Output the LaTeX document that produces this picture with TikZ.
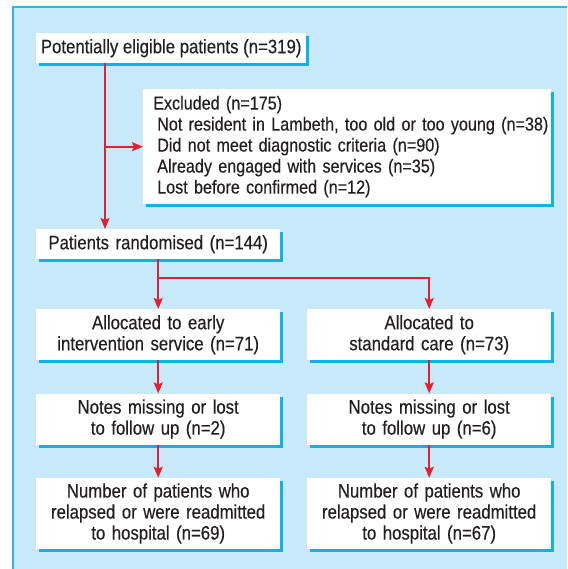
\documentclass[tikz,border=0pt]{standalone}
\usepackage{fontspec}
\setmainfont{Liberation Sans}[FakeStretch=0.86, FakeBold=0.3]
\usepackage{xcolor}
\usetikzlibrary{arrows.meta,positioning,shadows}

\definecolor{panelblue}{HTML}{C7E9F9}
\definecolor{framecyan}{HTML}{2AB8E8}
\definecolor{shadecyan}{HTML}{0DB1EC}
\definecolor{flowred}{HTML}{E5202E}
\definecolor{inkgrey}{HTML}{231F20}

\begin{document}
\begin{tikzpicture}[
    x=1pt, y=1pt,
    font=\fontsize{19.5}{21}\selectfont,
    box/.style={fill=white, text=inkgrey, inner sep=0pt, align=center,
        drop shadow={shadow xshift=3pt, shadow yshift=-3pt, fill=shadecyan, opacity=1}},
    wide/.style={box, minimum width=244pt, text width=236pt},
    excl/.style={box, align=left, text width=406pt, minimum height=115pt, inner xsep=1pt,
        font=\fontsize{18.8}{21}\selectfont},
    arr/.style={color=flowred, line width=1.9pt, -{Stealth[length=11pt, width=9pt, inset=2pt]}}
]

% panel
\useasboundingbox (0,0) rectangle (567,-569);
\fill[panelblue] (13,-7) rectangle (567,-569);
\draw[framecyan, line width=1.5pt] (13,-569) -- (13,-7) -- (567,-7);

% boxes
\node[box, minimum width=270pt, minimum height=30pt, anchor=north west] (elig) at (36,-33)
    {Potentially eligible patients (n=319)};
\node[excl, anchor=north west] (excl) at (143,-89)
    {\hspace*{9pt}Excluded (n=175)\\
     \hspace*{13pt}\mbox{Not resident in Lambeth, too old or too young (n=38)}\\
     \hspace*{13pt}Did not meet diagnostic criteria (n=90)\\
     \hspace*{13pt}Already engaged with services (n=35)\\
     \hspace*{13pt}Lost before confirmed (n=12)};
\node[wide, minimum height=30pt, anchor=north west] (rand) at (36,-229)
    {Patients randomised (n=144)};

\node[wide, minimum height=51pt, anchor=north west] (alloc1) at (36,-309)
    {Allocated to early\\intervention service (n=71)};
\node[wide, minimum height=51pt, anchor=north west] (alloc2) at (307,-309)
    {Allocated to\\standard care (n=73)};
\node[wide, minimum height=51pt, below=33pt of alloc1] (lost1)
    {Notes missing or lost\\to follow up (n=2)};
\node[wide, minimum height=51pt, below=33pt of alloc2] (lost2)
    {Notes missing or lost\\to follow up (n=6)};
\node[wide, minimum height=71pt, below=33pt of lost1] (relap1)
    {Number of patients who\\relapsed or were readmitted\\to hospital (n=69)};
\node[wide, minimum height=71pt, below=33pt of lost2] (relap2)
    {Number of patients who\\relapsed or were readmitted\\to hospital (n=67)};

% connectors
\coordinate (trunk) at ([xshift=69pt]elig.south west);
\coordinate (split) at ([yshift=-18.5pt]rand.south);
\draw[arr] (trunk) -- (trunk |- rand.north);
\draw[arr] (trunk |- excl.west) -- (excl.west);
\draw[arr] (rand.south) -- (alloc1.north);
\draw[arr] (split) -| (alloc2.north);
\draw[arr] (alloc1) -- (lost1);
\draw[arr] (alloc2) -- (lost2);
\draw[arr] (lost1) -- (relap1);
\draw[arr] (lost2) -- (relap2);

\end{tikzpicture}
\end{document}
